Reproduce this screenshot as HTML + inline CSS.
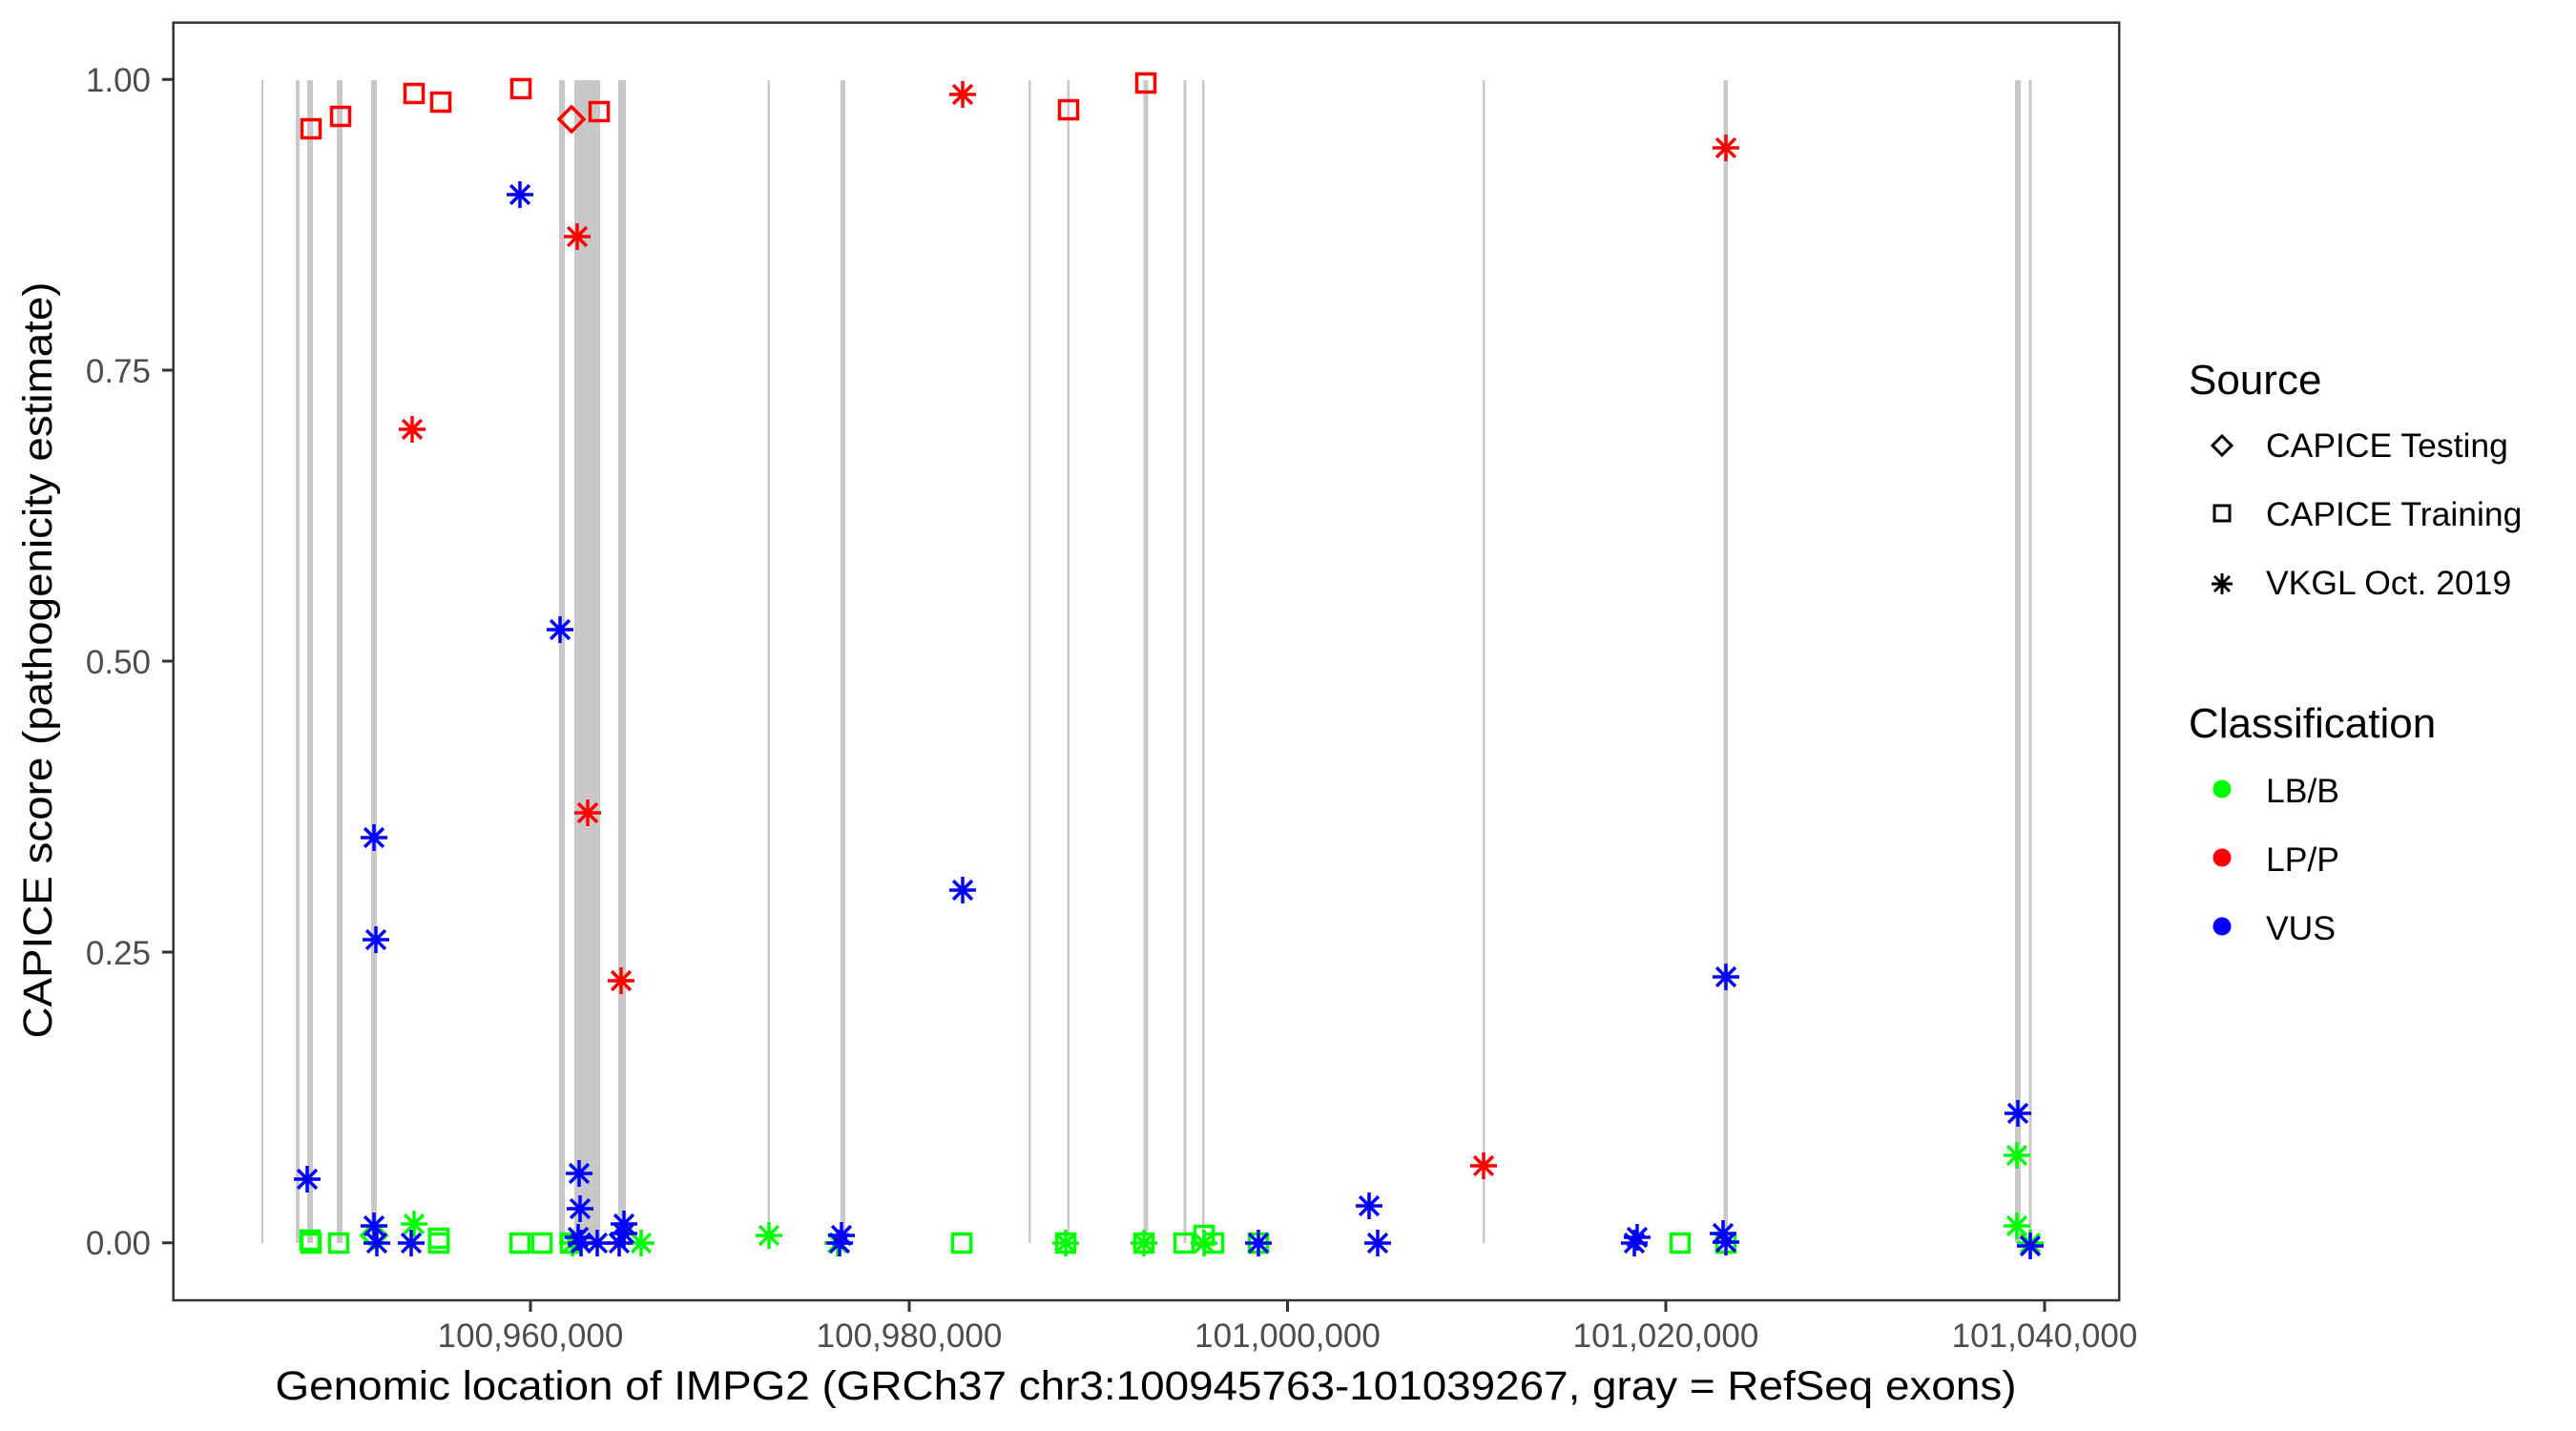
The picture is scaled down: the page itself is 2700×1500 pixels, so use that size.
<!DOCTYPE html>
<html><head><meta charset="utf-8"><style>
html,body{margin:0;padding:0;background:#fff;}
svg{display:block;}
text{font-family:"Liberation Sans",Arial,sans-serif;}
</style></head><body>
<svg width="2700" height="1500" viewBox="0 0 2700 1500" xmlns="http://www.w3.org/2000/svg">
<defs>
<g id="sq" fill="none" stroke-width="3.5"><rect x="-9.5" y="-9.5" width="19" height="19"/></g>
<g id="st" fill="none" stroke-width="3.5"><path d="M0,-14V14M-14,0H14M-9.9,-9.9L9.9,9.9M-9.9,9.9L9.9,-9.9"/></g>
<g id="dm" fill="none" stroke-width="3.5"><path d="M0,-13L13,0L0,13L-13,0Z"/></g>
</defs>
<rect width="2700" height="1500" fill="#fff"/>
<g fill="#c8c8c8">
<rect x="274" y="84" width="2" height="1219"/>
<rect x="310" y="84" width="4" height="1219"/>
<rect x="322" y="84" width="6" height="1219"/>
<rect x="353" y="84" width="6" height="1219"/>
<rect x="389" y="84" width="6" height="1219"/>
<rect x="586" y="84" width="6" height="1219"/>
<rect x="602" y="84" width="27" height="1219"/>
<rect x="648" y="84" width="8" height="1219"/>
<rect x="804.5" y="84" width="2.5" height="1219"/>
<rect x="881" y="84" width="5" height="1219"/>
<rect x="1078" y="84" width="2.5" height="1219"/>
<rect x="1118.5" y="84" width="2.5" height="1219"/>
<rect x="1198.5" y="84" width="5" height="1219"/>
<rect x="1240.5" y="84" width="3" height="1219"/>
<rect x="1260" y="84" width="2.5" height="1219"/>
<rect x="1554" y="84" width="2.5" height="1219"/>
<rect x="1806.5" y="84" width="4.5" height="1219"/>
<rect x="2112" y="84" width="6" height="1219"/>
<rect x="2126.5" y="84" width="3" height="1219"/>
</g>
<g stroke="#00ff00">
<use href="#sq" x="325" y="1300"/><use href="#sq" x="326" y="1303"/><use href="#sq" x="355" y="1303"/>
<use href="#sq" x="460" y="1298"/><use href="#sq" x="460" y="1303"/><use href="#sq" x="545" y="1303"/>
<use href="#sq" x="568" y="1303"/><use href="#sq" x="598" y="1303"/><use href="#sq" x="1008" y="1303"/>
<use href="#sq" x="1117" y="1303"/><use href="#sq" x="1199" y="1303"/><use href="#sq" x="1241" y="1303"/>
<use href="#sq" x="1262" y="1295"/><use href="#sq" x="1272" y="1303"/><use href="#sq" x="1319" y="1303"/>
<use href="#sq" x="1761" y="1303"/><use href="#sq" x="1809" y="1303"/>
<use href="#dm" x="392" y="1295"/>
<use href="#st" x="434" y="1283"/><use href="#st" x="672" y="1303"/><use href="#st" x="806" y="1295"/>
<use href="#st" x="878" y="1303"/><use href="#st" x="1117" y="1303"/><use href="#st" x="1199" y="1303"/>
<use href="#st" x="1262" y="1303"/><use href="#st" x="2114" y="1211"/><use href="#st" x="2114" y="1285"/>
<use href="#st" x="2128" y="1303"/><use href="#st" x="600" y="1303"/>
</g>
<g stroke="#0000ff">
<use href="#st" x="322" y="1236"/><use href="#st" x="392" y="878"/><use href="#st" x="394" y="985"/>
<use href="#st" x="392" y="1285"/><use href="#st" x="395" y="1303"/><use href="#st" x="431" y="1303"/>
<use href="#st" x="545" y="204"/><use href="#st" x="587" y="660"/>
<use href="#st" x="607" y="1230"/><use href="#st" x="608" y="1267"/><use href="#st" x="606" y="1297"/>
<use href="#st" x="609" y="1303"/><use href="#st" x="626" y="1303"/><use href="#st" x="649" y="1303"/>
<use href="#st" x="654" y="1283"/><use href="#st" x="654" y="1293"/>
<use href="#st" x="882" y="1295"/><use href="#st" x="880" y="1303"/>
<use href="#st" x="1009" y="933"/><use href="#st" x="1319" y="1303"/>
<use href="#st" x="1435" y="1264"/><use href="#st" x="1444" y="1303"/>
<use href="#st" x="1716" y="1297"/><use href="#st" x="1713" y="1303"/>
<use href="#st" x="1806" y="1293"/><use href="#st" x="1809" y="1302"/>
<use href="#st" x="1809" y="1024"/><use href="#st" x="2115" y="1167"/><use href="#st" x="2128" y="1306"/>
</g>
<g stroke="#ff0000">
<use href="#sq" x="326" y="135"/><use href="#sq" x="357" y="122"/><use href="#sq" x="434" y="98"/>
<use href="#sq" x="462" y="107"/><use href="#sq" x="546" y="93"/><use href="#sq" x="628" y="117"/>
<use href="#sq" x="1120" y="115"/><use href="#sq" x="1201" y="87"/>
<use href="#dm" x="599" y="125"/>
<use href="#st" x="605" y="248"/><use href="#st" x="432" y="450"/><use href="#st" x="616" y="852"/>
<use href="#st" x="651" y="1028"/><use href="#st" x="1009" y="99"/><use href="#st" x="1809" y="155"/>
<use href="#st" x="1555" y="1222"/>
</g>
<rect x="181.7" y="23.7" width="2039.5" height="1339.3" fill="none" stroke="#333" stroke-width="2.5"/>
<g stroke="#333" stroke-width="3">
<path d="M170,83.3H181.7M170,388H181.7M170,693H181.7M170,998H181.7M170,1302.7H181.7"/>
<path d="M556,1363V1375M953,1363V1375M1349.5,1363V1375M1746,1363V1375M2143,1363V1375"/>
</g>
<g fill="#4d4d4d" font-size="35" text-anchor="end">
<text x="158" y="96">1.00</text><text x="158" y="401">0.75</text><text x="158" y="706">0.50</text>
<text x="158" y="1011">0.25</text><text x="158" y="1315">0.00</text>
</g>
<g fill="#4d4d4d" font-size="35" text-anchor="middle">
<text x="556" y="1412">100,960,000</text><text x="953" y="1412">100,980,000</text>
<text x="1349.5" y="1412">101,000,000</text><text x="1746" y="1412">101,020,000</text>
<text x="2143" y="1412">101,040,000</text>
</g>
<text x="1201" y="1467" font-size="43" text-anchor="middle" fill="#000" textLength="1825" lengthAdjust="spacingAndGlyphs">Genomic location of IMPG2 (GRCh37 chr3:100945763-101039267, gray = RefSeq exons)</text>
<text transform="translate(54,692) rotate(-90)" font-size="43" text-anchor="middle" fill="#000" textLength="793" lengthAdjust="spacingAndGlyphs">CAPICE score (pathogenicity estimate)</text>
<text x="2294" y="413" font-size="44">Source</text>
<g stroke="#000"><path d="M2329,457L2339,467L2329,477L2319,467Z" fill="none" stroke-width="3"/>
<rect x="2321" y="530" width="16" height="16" fill="none" stroke-width="3"/>
<path d="M2329,601V623M2318,612H2340M2321,604L2337,620M2321,620L2337,604" stroke-width="3"/></g>
<g font-size="35.5" fill="#000">
<text x="2375" y="479">CAPICE Testing</text><text x="2375" y="551">CAPICE Training</text><text x="2375" y="623">VKGL Oct. 2019</text>
</g>
<text x="2294" y="773" font-size="44">Classification</text>
<circle cx="2329" cy="827" r="9.5" fill="#00ff00"/><circle cx="2329" cy="899" r="9.5" fill="#ff0000"/><circle cx="2329" cy="971" r="9.5" fill="#0000ff"/>
<g font-size="35.5" fill="#000">
<text x="2375" y="841">LB/B</text><text x="2375" y="913">LP/P</text><text x="2375" y="985">VUS</text>
</g>
</svg>
</body></html>
